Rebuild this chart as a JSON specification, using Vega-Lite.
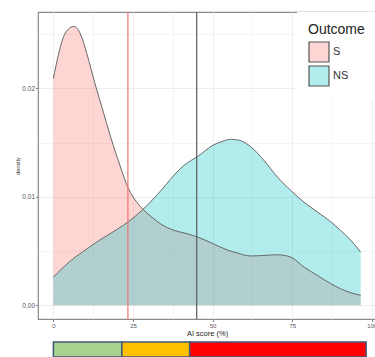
{
  "$schema": "https://vega.github.io/schema/vega-lite/v6.json",
  "padding": {"left": 15, "top": 10, "right": 0, "bottom": 0},
  "background": "white",
  "config": {"font": "Liberation Sans", "view": {"stroke": null}},
  "spacing": 3,
  "resolve": {"scale": {"x": "independent", "color": "independent"}},
  "datasets": {
    "dens": [
      {"Outcome": "S", "score": 0, "density": 0.0209},
      {"Outcome": "S", "score": 1.5, "density": 0.0230},
      {"Outcome": "S", "score": 3, "density": 0.0246},
      {"Outcome": "S", "score": 4.5, "density": 0.0254},
      {"Outcome": "S", "score": 6.5, "density": 0.0257},
      {"Outcome": "S", "score": 8.5, "density": 0.0250},
      {"Outcome": "S", "score": 10.5, "density": 0.0232},
      {"Outcome": "S", "score": 13, "density": 0.0205},
      {"Outcome": "S", "score": 15.7, "density": 0.0178},
      {"Outcome": "S", "score": 18, "density": 0.0155},
      {"Outcome": "S", "score": 20.9, "density": 0.0129},
      {"Outcome": "S", "score": 23.5, "density": 0.0108},
      {"Outcome": "S", "score": 26.2, "density": 0.0095},
      {"Outcome": "S", "score": 28.3, "density": 0.0088},
      {"Outcome": "S", "score": 31, "density": 0.0081},
      {"Outcome": "S", "score": 33.7, "density": 0.0075},
      {"Outcome": "S", "score": 38, "density": 0.0069},
      {"Outcome": "S", "score": 42, "density": 0.0066},
      {"Outcome": "S", "score": 45.2, "density": 0.0063},
      {"Outcome": "S", "score": 50, "density": 0.0057},
      {"Outcome": "S", "score": 54.6, "density": 0.0051},
      {"Outcome": "S", "score": 58, "density": 0.0048},
      {"Outcome": "S", "score": 62, "density": 0.00455},
      {"Outcome": "S", "score": 66.1, "density": 0.0046},
      {"Outcome": "S", "score": 70.4, "density": 0.00466},
      {"Outcome": "S", "score": 74.5, "density": 0.00445},
      {"Outcome": "S", "score": 78.7, "density": 0.00353},
      {"Outcome": "S", "score": 82.9, "density": 0.00276},
      {"Outcome": "S", "score": 87.1, "density": 0.0020},
      {"Outcome": "S", "score": 90.2, "density": 0.00153},
      {"Outcome": "S", "score": 93.4, "density": 0.00116},
      {"Outcome": "S", "score": 96.5, "density": 0.00092},
      {"Outcome": "NS", "score": 0, "density": 0.0026},
      {"Outcome": "NS", "score": 5, "density": 0.0040},
      {"Outcome": "NS", "score": 10.5, "density": 0.0052},
      {"Outcome": "NS", "score": 15, "density": 0.0061},
      {"Outcome": "NS", "score": 20, "density": 0.0070},
      {"Outcome": "NS", "score": 23.5, "density": 0.0077},
      {"Outcome": "NS", "score": 28, "density": 0.0088},
      {"Outcome": "NS", "score": 32, "density": 0.0100},
      {"Outcome": "NS", "score": 35, "density": 0.0110},
      {"Outcome": "NS", "score": 37.9, "density": 0.0120},
      {"Outcome": "NS", "score": 41, "density": 0.0129},
      {"Outcome": "NS", "score": 45.2, "density": 0.0137},
      {"Outcome": "NS", "score": 50.4, "density": 0.0148},
      {"Outcome": "NS", "score": 53, "density": 0.0151},
      {"Outcome": "NS", "score": 55.7, "density": 0.0153},
      {"Outcome": "NS", "score": 58.5, "density": 0.0152},
      {"Outcome": "NS", "score": 62, "density": 0.0146},
      {"Outcome": "NS", "score": 66.1, "density": 0.01336},
      {"Outcome": "NS", "score": 70.4, "density": 0.0118},
      {"Outcome": "NS", "score": 74.5, "density": 0.0106},
      {"Outcome": "NS", "score": 78.7, "density": 0.0095},
      {"Outcome": "NS", "score": 82.9, "density": 0.0086},
      {"Outcome": "NS", "score": 87.1, "density": 0.0077},
      {"Outcome": "NS", "score": 90.2, "density": 0.0069},
      {"Outcome": "NS", "score": 93.4, "density": 0.0060},
      {"Outcome": "NS", "score": 96.5, "density": 0.0049}
    ],
    "cutoffs": [
      {"score": 23.4, "cutoff": "A"},
      {"score": 45, "cutoff": "B"}
    ],
    "bands": [
      {"start": 0, "end": 21.5, "band": "low"},
      {"start": 21.5, "end": 42.8, "band": "mid"},
      {"start": 42.8, "end": 98.2, "band": "high"}
    ]
  },
  "vconcat": [
    {
      "width": 338,
      "height": 307,
      "view": {"stroke": "#8a8a8a", "strokeWidth": 1.2},
      "layer": [
        {
          "data": {"name": "dens"},
          "mark": {"type": "area", "interpolate": "monotone", "opacity": 1},
          "encoding": {
            "x": {
              "field": "score", "type": "quantitative",
              "scale": {"domain": [-4.83, 101.3], "nice": false, "zero": false},
              "axis": {
                "title": "AI score (%)",
                "values": [0, 12.5, 25, 37.5, 50, 62.5, 75, 87.5, 100],
                "labelExpr": "datum.value % 25 === 0 ? datum.label : ''",
                "domain": false,
                "tickSize": 2.5, "tickColor": "#666", "tickWidth": 0.8,
                "tickOpacity": {"condition": {"test": "datum.value % 25 !== 0", "value": 0}, "value": 1},
                "labelFontSize": 6, "labelColor": "#555", "labelPadding": 1,
                "titleFontSize": 7.5, "titleColor": "#222", "titlePadding": 1, "titleFontWeight": "normal",
                "gridColor": "#ebebeb",
                "gridWidth": {"condition": {"test": "datum.value % 25 !== 0", "value": 0.5}, "value": 0.9}
              }
            },
            "y": {
              "field": "density", "type": "quantitative", "stack": null,
              "scale": {"domain": [-0.00126, 0.02703], "nice": false, "zero": false},
              "axis": {
                "title": "density",
                "values": [0, 0.005, 0.01, 0.015, 0.02, 0.025],
                "format": ".2f",
                "labelExpr": "round(datum.value * 1000) % 10 === 0 ? datum.label : ''",
                "domain": false,
                "tickSize": 2.5, "tickColor": "#666", "tickWidth": 0.8,
                "tickOpacity": {"condition": {"test": "round(datum.value * 1000) % 10 !== 0", "value": 0}, "value": 1},
                "labelFontSize": 6.5, "labelColor": "#555", "labelPadding": 1,
                "titleFontSize": 5.5, "titleColor": "#333", "titlePadding": 1, "titleFontWeight": "normal",
                "gridColor": "#ebebeb",
                "gridWidth": {"condition": {"test": "round(datum.value * 1000) % 10 !== 0", "value": 0.5}, "value": 0.9}
              }
            },
            "color": {
              "field": "Outcome", "type": "nominal",
              "scale": {"domain": ["S", "NS"], "range": ["rgba(248,118,109,0.3)", "rgba(0,191,196,0.3)"]},
              "legend": {
                "title": "Outcome", "orient": "top-right", "offset": 0, "padding": 11,
                "fillColor": "white",
                "titleFontSize": 14, "titleFontWeight": "normal", "titleColor": "#222", "titlePadding": 4,
                "labelFontSize": 11, "labelColor": "#333", "labelOffset": 3,
                "symbolType": "square", "symbolSize": 400,
                "symbolStrokeColor": "#555", "symbolStrokeWidth": 1.2, "rowPadding": -5
              }
            }
          }
        },
        {
          "data": {"name": "dens"},
          "mark": {"type": "line", "interpolate": "monotone", "color": "#686868", "strokeWidth": 1},
          "encoding": {
            "x": {"field": "score", "type": "quantitative"},
            "y": {"field": "density", "type": "quantitative"},
            "detail": {"field": "Outcome", "type": "nominal"}
          }
        },
        {
          "data": {"name": "cutoffs"},
          "mark": {"type": "rule", "strokeWidth": 1.2},
          "encoding": {
            "x": {"field": "score", "type": "quantitative"},
            "stroke": {
              "field": "cutoff", "type": "nominal",
              "scale": {"domain": ["A", "B"], "range": ["#f07272", "#5c5c5c"]},
              "legend": null
            }
          }
        }
      ]
    },
    {
      "width": 338,
      "height": 15,
      "data": {"name": "bands"},
      "mark": {"type": "rect", "stroke": "#41587a", "strokeWidth": 1.5},
      "encoding": {
        "x": {
          "field": "start", "type": "quantitative",
          "scale": {"domain": [-4.83, 101.3], "nice": false, "zero": false},
          "axis": null
        },
        "x2": {"field": "end"},
        "color": {
          "field": "band", "type": "nominal",
          "scale": {"domain": ["low", "mid", "high"], "range": ["#a9d18e", "#ffc000", "#ff0000"]},
          "legend": null
        }
      }
    }
  ]
}
